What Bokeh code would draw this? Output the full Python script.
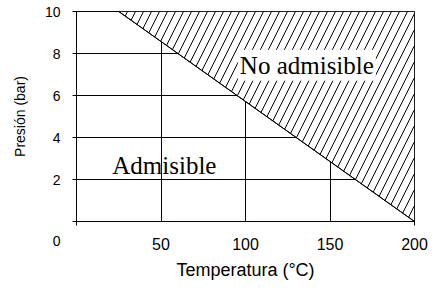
from bokeh.plotting import figure
from bokeh.models import FixedTicker, Label, Range1d
from bokeh.embed import file_html
from bokeh.resources import INLINE

# Data
x_ticks = [50, 100, 150, 200]
y_ticks = [0, 2, 4, 6, 8, 10]
boundary_temp = [25, 200]   # limit line: temperature (°C)
boundary_pres = [10, 0]     # limit line: pressure (bar)
region_labels = ["Admisible", "No admisible"]
x_title = "Temperatura (°C)"
y_title = "Presión (bar)"

X_MIN, X_MAX = 0, 200
Y_MIN, Y_MAX = 0, 10

SANS = "Liberation Sans"
SERIF = "Liberation Serif"

p = figure(width=436, height=296, x_range=Range1d(X_MIN, X_MAX), y_range=Range1d(Y_MIN, Y_MAX),
           output_backend="svg", toolbar_location=None,
           min_border_left=76, min_border_right=22, min_border_top=11, min_border_bottom=75)

p.outline_line_color = "black"
p.outline_line_width = 1
p.background_fill_color = "white"
p.border_fill_color = "white"

# grid
p.xgrid.ticker = FixedTicker(ticks=[t for t in x_ticks if t < X_MAX])
p.ygrid.ticker = FixedTicker(ticks=[t for t in y_ticks if Y_MIN < t < Y_MAX])
for g in (p.xgrid, p.ygrid):
    g.grid_line_color = "black"
    g.grid_line_alpha = 1
    g.grid_line_width = 1

# x axis
p.xaxis.ticker = FixedTicker(ticks=x_ticks, minor_ticks=[X_MIN, X_MAX])
p.xaxis.major_tick_out = 0
p.xaxis.major_tick_in = 0
p.xaxis.minor_tick_out = 4
p.xaxis.minor_tick_in = 0
p.xaxis.major_label_text_font = SANS
p.xaxis.major_label_text_font_size = "16px"
p.xaxis.major_label_standoff = 12
p.xaxis.axis_label = x_title
p.xaxis.axis_label_text_font = SANS
p.xaxis.axis_label_text_font_size = "18px"
p.xaxis.axis_label_text_font_style = "normal"
p.xaxis.axis_label_standoff = 7

# y axis (the origin's "0" sits lower, beneath the corner)
p.yaxis.ticker = FixedTicker(ticks=y_ticks)
p.yaxis.major_label_overrides = {y_ticks[0]: "\n\n" + str(y_ticks[0])}
p.yaxis.major_tick_out = 4
p.yaxis.major_tick_in = 0
p.yaxis.minor_tick_out = 0
p.yaxis.minor_tick_in = 0
p.yaxis.major_label_text_font = SANS
p.yaxis.major_label_text_font_size = "14px"
p.yaxis.major_label_standoff = 12
p.yaxis.axis_label = y_title
p.yaxis.axis_label_text_font = SANS
p.yaxis.axis_label_text_font_size = "14px"
p.yaxis.axis_label_text_font_style = "normal"
p.yaxis.axis_label_standoff = 14

for ax in (p.xaxis, p.yaxis):
    ax.axis_line_color = "black"
    ax.major_tick_line_color = "black"
    ax.minor_tick_line_color = "black"
    ax.major_label_text_color = "black"
    ax.axis_label_text_color = "black"

# hatched (not admissible) region above the limit line
poly_x = [boundary_temp[0], X_MAX, boundary_temp[1]]
poly_y = [boundary_pres[0], Y_MAX, boundary_pres[1]]
p.patch(poly_x, poly_y, fill_color="white", line_color="black", line_width=1,
        hatch_pattern="/", hatch_color="black", hatch_scale=16, hatch_weight=1)
p.line(boundary_temp, boundary_pres, line_color="black", line_width=1)

p.add_layout(Label(x=52, y=2.67, text=region_labels[0], text_font=SERIF, text_font_size="25px",
                   text_align="center", text_baseline="alphabetic", text_color="black"))
p.add_layout(Label(x=136.3, y=7.44, text=region_labels[1], text_font=SERIF, text_font_size="25px",
                   text_align="center", text_baseline="alphabetic", text_color="black",
                   background_fill_color="white", padding=2))

open("out.html", "w").write(file_html(p, INLINE))
